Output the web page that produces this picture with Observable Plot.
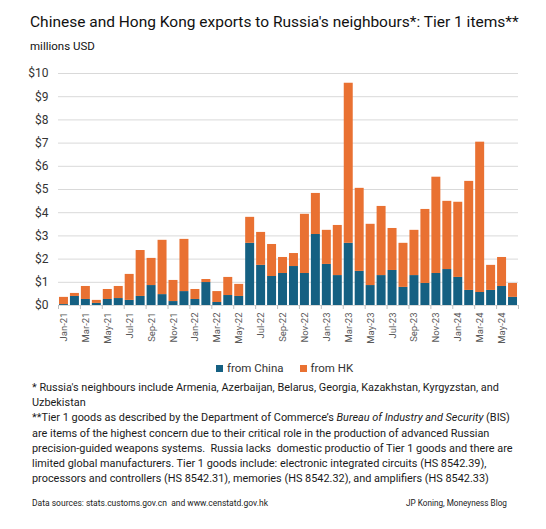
<!DOCTYPE html>
<html>
<head>
<meta charset="utf-8">
<script src="https://cdn.jsdelivr.net/npm/d3@7"></script>
<script src="https://cdn.jsdelivr.net/npm/@observablehq/plot@0.6"></script>
<style>
  html, body { margin: 0; padding: 0; background: #fff; }
  body { width: 546px; height: 529px; position: relative; overflow: hidden; font-family: Roboto, "Noto Sans", sans-serif; color: #1a1a1a; }
  .abs { position: absolute; white-space: nowrap; }
  #title { left: 30px; top: 13px; font-size: 15.5px; color: #111; }
  #subtitle { left: 30px; top: 39px; font-size: 11.5px; color: #111; }
  #chart { position: absolute; left: 0; top: 56px; }
  #legend { left: 216px; top: 361px; font-size: 11.5px; color: #333; display: flex; align-items: center; }
  #legend .sw { display: inline-block; width: 7px; height: 7px; margin-right: 4px; }
  #legend .item { display: flex; align-items: center; margin-right: 16px; }
  #notes { left: 32px; top: 380px; font-size: 10.9px; line-height: 15.2px; color: #1a1a1a; }
  #source { left: 32px; top: 498px; font-size: 8.5px; color: #222; }
  #credit { left: 406px; top: 498px; font-size: 8.2px; color: #222; }
</style>
</head>
<body>
<div id="title" class="abs">Chinese and Hong Kong exports to Russia's neighbours*: Tier 1 items**</div>
<div id="subtitle" class="abs">millions USD</div>
<div id="chart"></div>
<div id="legend" class="abs"></div>
<div id="notes" class="abs">* Russia's neighbours include Armenia, Azerbaijan, Belarus, Georgia, Kazakhstan, Kyrgyzstan, and<br>Uzbekistan<br>**Tier 1 goods as described by the Department of Commerce’s <i>Bureau of Industry and Security</i> (BIS)<br>are items of the highest concern due to their critical role in the production of advanced Russian<br>precision-guided weapons systems.&nbsp; Russia lacks&nbsp; domestic productio of Tier 1 goods and there are<br>limited global manufacturers. Tier 1 goods include: electronic integrated circuits (HS 8542.39),<br>processors and controllers (HS 8542.31), memories (HS 8542.32), and amplifiers (HS 8542.33)</div>
<div id="source" class="abs">Data sources: stats.customs.gov.cn&nbsp; and www.censtatd.gov.hk</div>
<div id="credit" class="abs">JP Koning, Moneyness Blog</div>
<script>
const months = [
  "Jan-21","Feb-21","Mar-21","Apr-21","May-21","Jun-21","Jul-21","Aug-21","Sep-21","Oct-21","Nov-21","Dec-21",
  "Jan-22","Feb-22","Mar-22","Apr-22","May-22","Jun-22","Jul-22","Aug-22","Sep-22","Oct-22","Nov-22","Dec-22",
  "Jan-23","Feb-23","Mar-23","Apr-23","May-23","Jun-23","Jul-23","Aug-23","Sep-23","Oct-23","Nov-23","Dec-23",
  "Jan-24","Feb-24","Mar-24","Apr-24","May-24","Jun-24"
];
const fromChina = [
  0.04,0.39,0.26,0.09,0.26,0.30,0.22,0.39,0.86,0.47,0.17,0.60,
  0.26,0.99,0.13,0.43,0.39,2.68,1.73,1.25,1.38,1.68,1.38,3.06,
  1.77,1.29,2.68,1.47,0.86,1.29,1.51,0.78,1.29,0.95,1.38,1.55,
  1.21,0.65,0.56,0.65,0.82,0.35
];
const fromHK = [
  0.31,0.13,0.56,0.13,0.43,0.52,1.12,1.98,1.17,2.34,0.91,2.25,
  0.43,0.13,0.47,0.78,0.52,1.12,1.42,1.38,0.69,0.56,2.55,1.77,
  1.47,2.16,6.90,3.58,2.64,2.98,1.81,1.90,1.95,3.19,4.15,2.94,
  3.24,4.70,6.48,1.08,1.25,0.60
];
const seriesNames = ["from China", "from HK"];
const seriesColors = ["#156082", "#E97132"];
const yTicks = [0,1,2,3,4,5,6,7,8,9,10];
const labelMonths = ["Jan-21","Mar-21","May-21","Jul-21","Sep-21","Nov-21","Jan-22","Mar-22","May-22","Jul-22","Sep-22","Nov-22","Jan-23","Mar-23","May-23","Jul-23","Sep-23","Nov-23","Jan-24","Mar-24","May-24"];

const rows = months.flatMap((m, i) => [
  {month: m, series: seriesNames[0], value: fromChina[i]},
  {month: m, series: seriesNames[1], value: fromHK[i]}
]);

const W = 546, ML = 58, MR = 28;
const step = (W - ML - MR) / months.length;

const chart = Plot.plot({
  width: W,
  height: 297,
  marginTop: 17,
  marginLeft: ML,
  marginRight: MR,
  marginBottom: 48,
  style: {fontFamily: "Roboto, 'Noto Sans', sans-serif", background: "transparent", color: "#404040"},
  x: {domain: months, paddingInner: 0.18, paddingOuter: 0.09, label: null},
  y: {domain: [0, 10], label: null},
  color: {domain: seriesNames, range: seriesColors},
  marks: [
    Plot.gridY(yTicks, {stroke: "#d9d9d9", strokeOpacity: 1, strokeWidth: 1}),
    Plot.barY(rows, {x: "month", y: "value", fill: "series"}),
    Plot.axisY(yTicks, {tickSize: 0, tickPadding: 10, tickFormat: d => "$" + d, fontSize: 12, fill: "#333"}),
    Plot.axisX(labelMonths, {tickSize: 0, tickRotate: -90, tickPadding: 7, fontSize: 9.5, fill: "#595959"}),
    Plot.axisX(labelMonths, {tickSize: 4, fill: "none", stroke: "#bfbfbf", dx: -step / 2}),
    Plot.axisX([months[months.length - 1]], {tickSize: 4, fill: "none", stroke: "#bfbfbf", dx: step / 2})
  ]
});
document.getElementById("chart").appendChild(chart);

const legend = document.getElementById("legend");
seriesNames.forEach((s, i) => {
  const item = document.createElement("span");
  item.className = "item";
  const sw = document.createElement("span");
  sw.className = "sw";
  sw.style.background = seriesColors[i];
  item.appendChild(sw);
  item.appendChild(document.createTextNode(s));
  legend.appendChild(item);
});
</script>
</body>
</html>
